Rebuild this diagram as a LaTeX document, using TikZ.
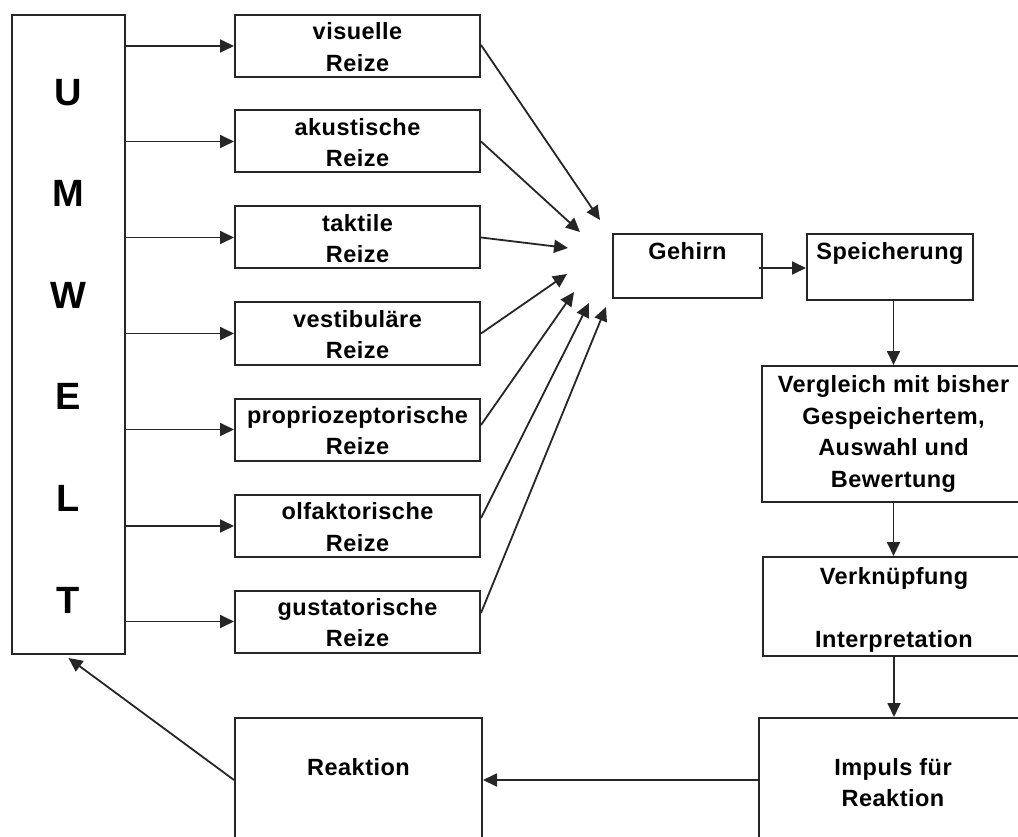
\documentclass[tikz,border=0pt]{standalone}
\usepackage{fontspec}
\setmainfont{Liberation Sans}[LetterSpace=2]
\usetikzlibrary{arrows.meta,calc}
\begin{document}
\begin{tikzpicture}[x=1pt,y=-1pt,
  box/.style={draw=black!85,line width=2pt,inner sep=0pt,fill=none},
  txt/.style={font=\fontsize{23.5}{31.5}\selectfont\bfseries,align=center,inner sep=0pt,text=black},
  big/.style={font=\fontsize{38}{101.6}\selectfont\bfseries,align=center,inner sep=0pt,text=black},
  arr/.style={draw=black!85,line width=1.8pt,-{Triangle[length=14pt,width=13pt]}}
]
\useasboundingbox (0,0) rectangle (1018,837);
\clip (0,0) rectangle (1018,837);
\fill[white] (0,0) rectangle (1018,837);

% Umwelt
\node[box,minimum width=113pt,minimum height=639pt] (U) at (68.5,334.5) {};
\node[big] (Ut) at (68.5,346) {U\\M\\W\\E\\L\\T};

% stimulus boxes
\foreach \n/\y in {1/46,2/141.5,3/237.5,4/333.5,5/429.5,6/526,7/621.5}
  \node[box,minimum width=245pt,minimum height=62pt] (b\n) at (357.5,\y) {};
\node[txt] (l1) at (357.5,47) {visuelle\\Reize};
\node[txt] (l2) at (357.5,142.5) {akustische\\Reize};
\node[txt] (l3) at (357.5,238.5) {taktile\\Reize};
\node[txt] (l4) at (357.5,334.5) {vestibuläre\\Reize};
\node[txt] (l5) at (357.5,430.5) {propriozeptorische\\Reize};
\node[txt] (l6) at (357.5,527) {olfaktorische\\Reize};
\node[txt] (l7) at (357.5,622.5) {gustatorische\\Reize};

\foreach \n in {1,...,7}
  \draw[arr] (U.east |- b\n.west) -- (b\n.west);

% convergence tips
\coordinate (t1) at (600,220);
\coordinate (t2) at (580,232);
\coordinate (t3) at (568,248);
\coordinate (t4) at (567,274);
\coordinate (t5) at (574,292);
\coordinate (t6) at (589,303);
\coordinate (t7) at (606,307);
\draw[arr] ($(b1.east)+(0,-1)$) -- (t1);
\draw[arr] (b2.east) -- (t2);
\draw[arr] (b3.east) -- (t3);
\draw[arr] (b4.east) -- (t4);
\draw[arr] ($(b5.east)+(0,-4.5)$) -- (t5);
\draw[arr] ($(b6.east)+(0,-8)$) -- (t6);
\draw[arr] ($(b7.east)+(0,-8.5)$) -- (t7);

% brain chain
\node[box,minimum width=149pt,minimum height=64pt] (G) at (687.5,266) {};
\node[txt,anchor=base] (Gt) at (687.5,260) {Gehirn};
\node[box,minimum width=166pt,minimum height=66pt] (S) at (890,267) {};
\node[txt,anchor=base] (St) at (890,260) {Speicherung};
\node[box,minimum width=263pt,minimum height=136pt] (V) at (893.5,434) {};
\node[txt] (Vt) at (893.5,434) {Vergleich mit bisher\\Gespeichertem,\\Auswahl und\\Bewertung};
\node[box,minimum width=262pt,minimum height=99pt] (K) at (894,606.5) {};
\node[txt] (Kt) at (894,610) {Verknüpfung\\[31.5pt]Interpretation};
\node[box,minimum width=268pt,minimum height=124pt] (I) at (893,780) {};
\node[txt] (It) at (893,782.5) {Impuls für\\Reaktion};
\node[box,minimum width=247pt,minimum height=124pt] (R) at (358.5,780) {};
\node[txt,anchor=base] (Rt) at (358.5,775) {Reaktion};

\draw[arr] ($(G.east)+(-4,2)$) -- (S.west |- {$(G.east)+(0,2)$});
\draw[arr] (V.north |- S.south) -- (V.north);
\draw[arr] (V.south) -- (V.south |- K.north);
\draw[arr] (K.south) -- (K.south |- I.north);
\draw[arr] (I.west) -- (R.east);
\draw[arr] (R.west) -- ($(U.south)+(0,3)$);
\end{tikzpicture}
\end{document}
